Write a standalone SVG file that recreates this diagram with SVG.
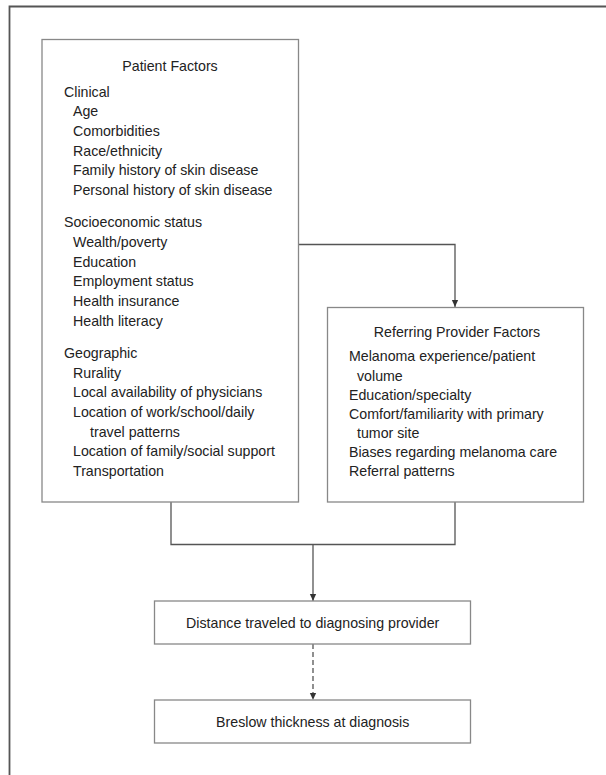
<svg xmlns="http://www.w3.org/2000/svg" width="606" height="775" viewBox="0 0 606 775">
<style>
.frame{fill:none;stroke:#555;stroke-width:1.8}
.box{fill:#fff;stroke:#888;stroke-width:1.3}
.con{fill:none;stroke:#555;stroke-width:1.3}
.dash{stroke-dasharray:5,3}
text{font-family:"Liberation Sans",Arial,sans-serif;font-size:14.2px;fill:#222}
.c{text-anchor:middle}
</style>
<defs>
<marker id="ah" markerWidth="8" markerHeight="10" refX="4" refY="9" orient="auto-start-reverse" markerUnits="userSpaceOnUse" viewBox="0 0 8 10">
<path d="M0,0 L8,0 L4,9 Z" fill="#333" transform="rotate(0)"/>
</marker>
<marker id="ahd" markerWidth="8" markerHeight="10" refX="9" refY="4" orient="auto" markerUnits="userSpaceOnUse" viewBox="0 0 10 8">
<path d="M0,0 L9,4 L0,8 Z" fill="#333"/>
</marker>
</defs>
<path class="frame" d="M9.5,775 V6.5 H606"/>
<g id="connectors">
<path class="con" d="M298,244.5 H455 V307" marker-end="url(#ahd)"/>
<path class="con" d="M171,502 V544.5 H455 V502"/>
<path class="con" d="M313,544.5 V601" marker-end="url(#ahd)"/>
<path class="con dash" d="M313,644 V700" marker-end="url(#ahd)"/>
</g>
<g id="patient-factors">
<rect class="box" x="42" y="39.5" width="256.5" height="462.5"/>
<text class="c" x="170" y="70.5">Patient Factors</text>
<text x="64" y="96.5">Clinical</text>
<text x="73" y="116.2">Age</text>
<text x="73" y="135.9">Comorbidities</text>
<text x="73" y="155.6">Race/ethnicity</text>
<text x="73" y="175.3">Family history of skin disease</text>
<text x="73" y="195">Personal history of skin disease</text>
<text x="64" y="227.2">Socioeconomic status</text>
<text x="73" y="246.9">Wealth/poverty</text>
<text x="73" y="266.6">Education</text>
<text x="73" y="286.3">Employment status</text>
<text x="73" y="306">Health insurance</text>
<text x="73" y="325.7">Health literacy</text>
<text x="64" y="357.9">Geographic</text>
<text x="73" y="377.6">Rurality</text>
<text x="73" y="397.3">Local availability of physicians</text>
<text x="73" y="417">Location of work/school/daily</text>
<text x="90" y="436.7">travel patterns</text>
<text x="73" y="456.4">Location of family/social support</text>
<text x="73" y="476.1">Transportation</text>
</g>
<g id="referring-provider-factors">
<rect class="box" x="327.5" y="307.5" width="256" height="194.5"/>
<text class="c" x="457" y="337.4">Referring Provider Factors</text>
<text x="349" y="361.4">Melanoma experience/patient</text>
<text x="357" y="380.5">volume</text>
<text x="349" y="399.6">Education/specialty</text>
<text x="349" y="418.6">Comfort/familiarity with primary</text>
<text x="357" y="437.7">tumor site</text>
<text x="349" y="456.8">Biases regarding melanoma care</text>
<text x="349" y="475.8">Referral patterns</text>
</g>
<g id="distance">
<rect class="box" x="154.5" y="601" width="316" height="43"/>
<text class="c" x="312.7" y="628.3">Distance traveled to diagnosing provider</text>
</g>
<g id="breslow">
<rect class="box" x="154.5" y="700" width="316" height="43"/>
<text class="c" x="312.7" y="727.3">Breslow thickness at diagnosis</text>
</g>
</svg>
